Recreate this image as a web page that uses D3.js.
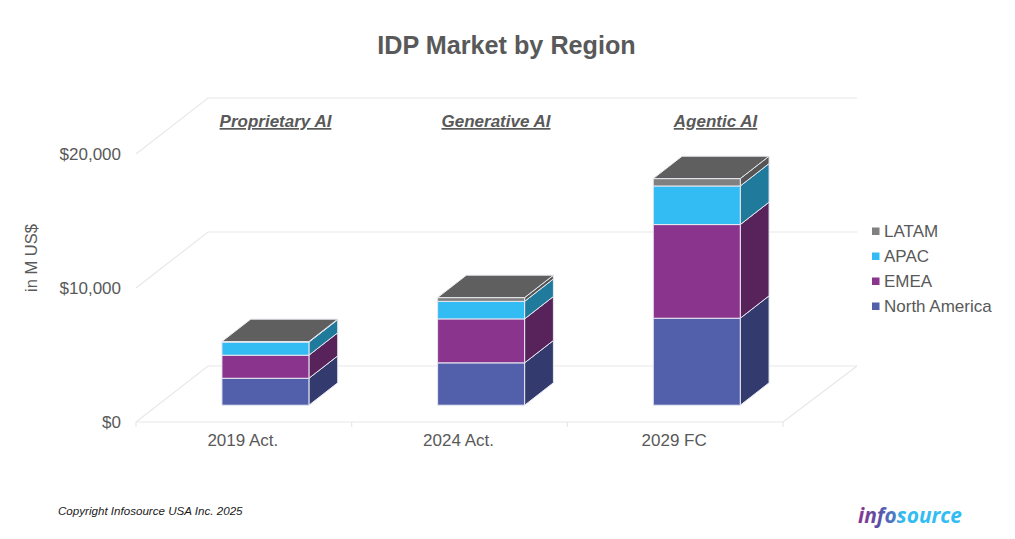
<!DOCTYPE html>
<html lang="en">
<head>
<meta charset="utf-8">
<title>IDP Market by Region</title>
<style>
  html,body{margin:0;background:#fff}
  svg{display:block}
  text{font-family:"Liberation Sans",Arial,sans-serif;fill:#595959}
  .grid{stroke:#e8e8e8;stroke-width:1.2;fill:none}
  .face{stroke:#e8e8f0;stroke-width:1;stroke-linejoin:round}
  .axis text{font-size:17px;fill:#595959}
  .axis .domain,.axis line{display:none}
</style>
<script src="https://d3js.org/d3.v7.min.js"></script>
</head>
<body>
<svg id="chart" width="1015" height="539"></svg>
<script>
const categories=['2019 Act.','2024 Act.','2029 FC'];
const themes=['Proprietary AI','Generative AI','Agentic AI'];
const seriesNames=['North America','EMEA','APAC','LATAM'];
const northAmerica=[2010,3160,6490];
const emea=[1720,3280,6990];
const apac=[980,1310,2880];
const latam=[40,280,550];
const yTicks=[0,10000,20000];
const frontColors=['#5260ac','#8a348e','#33bbf3','#808080'];
const sideColors=['#323a6e','#57235a','#1f7a9b','#555555'];
const topColor='#5f5f5f';

const svg=d3.select('#chart');

// 3d box: walls are pushed back by depth, bars sit in the middle of it
const depthX=72,depthY=-56;
const barNear=.3,barFar=.7,barWidth=87;
const x=d3.scaleBand().domain(categories).range([136,783]);
const y=d3.scaleLinear().domain([0,20000]).range([422,154]);
const px=(xv,d)=>xv+d*depthX;
const py=(v,d)=>y(v)+d*depthY;
const poly=pts=>pts.map(p=>p.join(',')).join(' ');

const wall=svg.append('g');
yTicks.forEach(t=>{
  wall.append('polyline').attr('class','grid')
    .attr('points',poly([[px(136,0),py(t,0)],[px(136,1),py(t,1)],[857,py(t,1)]]));
});
wall.append('line').attr('class','grid').attr('x1',136).attr('x2',783).attr('y1',y(0)).attr('y2',y(0));
wall.append('line').attr('class','grid').attr('x1',783).attr('x2',857).attr('y1',py(0,0)).attr('y2',py(0,1));
[136,...categories.map(c=>x(c)+x.bandwidth())].forEach(v=>{
  wall.append('line').attr('class','grid').attr('x1',v).attr('x2',v).attr('y1',y(0)).attr('y2',y(0)+5);
});

// stacks
const rows=categories.map((c,i)=>({cat:c,'North America':northAmerica[i],EMEA:emea[i],APAC:apac[i],LATAM:latam[i]}));
const stacked=d3.stack().keys(seriesNames)(rows);
const bars=svg.append('g');
categories.forEach((c,i)=>{
  const x0=x(c)+x.bandwidth()/2-barWidth/2, x1=x0+barWidth;
  stacked.forEach((s,k)=>{
    const [a,b]=s[i];
    bars.append('polygon').attr('class','face').attr('fill',sideColors[k])
      .attr('points',poly([[px(x1,barNear),py(a,barNear)],[px(x1,barFar),py(a,barFar)],[px(x1,barFar),py(b,barFar)],[px(x1,barNear),py(b,barNear)]]));
    bars.append('polygon').attr('class','face').attr('fill',frontColors[k])
      .attr('points',poly([[px(x0,barNear),py(a,barNear)],[px(x1,barNear),py(a,barNear)],[px(x1,barNear),py(b,barNear)],[px(x0,barNear),py(b,barNear)]]));
  });
  const top=stacked[stacked.length-1][i][1];
  bars.append('polygon').attr('class','face').attr('fill',topColor)
    .attr('points',poly([[px(x0,barNear),py(top,barNear)],[px(x1,barNear),py(top,barNear)],[px(x1,barFar),py(top,barFar)],[px(x0,barFar),py(top,barFar)]]));
});

// axes
svg.append('g').attr('class','axis').attr('transform','translate(127,0)')
  .call(d3.axisLeft(y).tickValues(yTicks).tickSize(0).tickPadding(6).tickFormat(d=>'$'+d3.format(',')(d)));
svg.append('g').attr('class','axis').attr('transform','translate(-1,428)')
  .call(d3.axisBottom(x).tickSize(0).tickPadding(6));

svg.append('text').attr('x',506.5).attr('y',54).attr('text-anchor','middle')
  .style('font-size','25.2px').style('font-weight','bold').text('IDP Market by Region');
svg.append('text').attr('transform','translate(37,258) rotate(-90)').attr('text-anchor','middle')
  .style('font-size','16.5px').text('in M US$');

// theme captions over each bar
const captionX=[275.5,496,715.5];
themes.forEach((t,i)=>{
  svg.append('text').attr('x',captionX[i]).attr('y',127).attr('text-anchor','middle')
    .style('font-size','17px').style('font-weight','bold').style('font-style','italic')
    .style('text-decoration','underline').text(t);
});

// legend, top of stack first
const legendY=d3.scalePoint().domain(seriesNames.slice().reverse()).range([231,306]);
seriesNames.forEach((n,k)=>{
  svg.append('rect').attr('x',872).attr('y',legendY(n)-3.5).attr('width',7.5).attr('height',7.5).attr('fill',frontColors[k]);
  svg.append('text').attr('x',884).attr('y',legendY(n)+6).style('font-size','17px').text(n);
});

svg.append('text').attr('x',58).attr('y',515).style('font-size','11.6px').style('font-style','italic')
  .style('fill','#1a1a1a').text('Copyright Infosource USA Inc. 2025');

// logo wordmark
const grad=svg.append('defs').append('linearGradient').attr('id','logoGrad').attr('gradientUnits','userSpaceOnUse')
  .attr('x1',858).attr('x2',962).attr('y1',0).attr('y2',0);
[[0,'#8a348e'],[.2,'#5a50a8'],[.36,'#4a80c8'],[.42,'#33bbf3'],[1,'#33bbf3']].forEach(s=>grad.append('stop').attr('offset',s[0]).attr('stop-color',s[1]));
svg.append('text').attr('x',858).attr('y',523).attr('textLength',104).attr('lengthAdjust','spacingAndGlyphs')
  .style('font-family','"Open Sans",sans-serif').style('font-size','22px').style('font-weight','bold').style('font-style','italic')
  .style('fill','url(#logoGrad)').text('infosource');
</script>
</body>
</html>
